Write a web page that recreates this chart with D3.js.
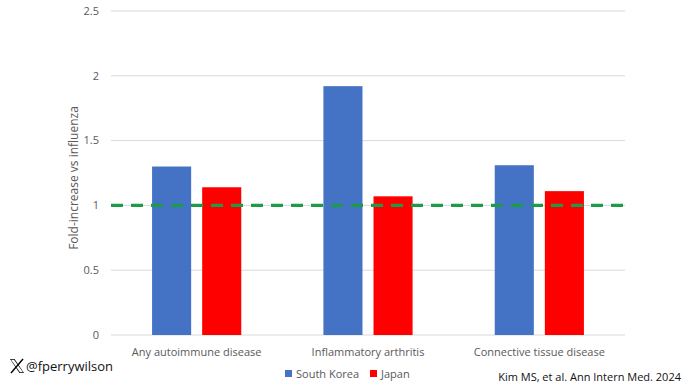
<!DOCTYPE html>
<html>
<head>
<meta charset="utf-8">
<script src="https://cdn.jsdelivr.net/npm/d3@7"></script>
<style>
  body { margin: 0; background: #fff; }
  text { font-family: "Open Sans", "Noto Sans", sans-serif; }
</style>
</head>
<body>
<div id="viz"></div>
<script>
const w = 690;
const h = 388;

const categories = ['Any autoimmune disease', 'Inflammatory arthritis', 'Connective tissue disease'];
const series = ['South Korea', 'Japan'];
const southKorea = [1.30, 1.92, 1.31];
const japan = [1.14, 1.07, 1.11];
const yTicks = [0, 0.5, 1, 1.5, 2, 2.5];
const reference = 1;
const colors = ['#4472c4', '#ff0000'];

const plot = { left: 111, right: 625, top: 11, bottom: 335 };

const svg = d3.select('#viz').append('svg')
    .attr('width', w)
    .attr('height', h)

const x = d3.scaleBand()
    .domain(categories)
    .range([plot.left, plot.right])
    .paddingInner(0)
    .paddingOuter(0)

const xSeries = d3.scaleBand()
    .domain(series)
    .range([0, x.bandwidth()])
    .paddingInner(0.22)
    .paddingOuter(0.82)

const y = d3.scaleLinear()
    .domain([0, 2.5])
    .range([plot.bottom, plot.top])

// gridlines
svg.append('g')
    .selectAll('line')
    .data(yTicks)
    .join('line')
    .attr('x1', plot.left)
    .attr('x2', plot.right)
    .attr('y1', d => y(d))
    .attr('y2', d => y(d))
    .attr('stroke', '#d9d9d9')
    .attr('stroke-width', 1)

// y tick labels
svg.append('g')
    .selectAll('text')
    .data(yTicks)
    .join('text')
    .attr('x', 99)
    .attr('y', d => y(d))
    .attr('dy', '0.35em')
    .attr('text-anchor', 'end')
    .attr('font-size', 11)
    .attr('fill', '#595959')
    .text(d => d)

// bars
const rows = categories.map((c, i) => ({ cat: c, values: [southKorea[i], japan[i]] }));

const groups = svg.append('g')
    .selectAll('g')
    .data(rows)
    .join('g')
    .attr('transform', d => `translate(${x(d.cat)},0)`)

groups.selectAll('rect')
    .data(d => d.values.map((v, j) => ({ s: series[j], v: v, j: j })))
    .join('rect')
    .attr('x', d => xSeries(d.s))
    .attr('width', xSeries.bandwidth())
    .attr('y', d => y(d.v))
    .attr('height', d => y(0) - y(d.v))
    .attr('fill', d => colors[d.j])

// reference line
svg.append('line')
    .attr('x1', plot.left)
    .attr('x2', plot.right)
    .attr('y1', y(reference))
    .attr('y2', y(reference))
    .attr('stroke', '#1c9b48')
    .attr('stroke-width', 3.2)
    .attr('stroke-dasharray', '12,8')

// category labels
svg.append('g')
    .selectAll('text')
    .data(categories)
    .join('text')
    .attr('x', d => x(d) + x.bandwidth() / 2)
    .attr('y', 356)
    .attr('text-anchor', 'middle')
    .attr('font-size', 11)
    .attr('fill', '#595959')
    .text(d => d)

// y axis title
svg.append('text')
    .attr('transform', `translate(78,${(plot.top + plot.bottom) / 2 + 5}) rotate(-90)`)
    .attr('text-anchor', 'middle')
    .attr('font-size', 12)
    .attr('fill', '#595959')
    .text('Fold-increase vs influenza')

// legend
const legend = svg.append('g')
    .attr('transform', 'translate(285,374)')

const legendItems = legend.selectAll('g')
    .data(series)
    .join('g')
    .attr('transform', (d, i) => `translate(${i * 85},0)`)

legendItems.append('rect')
    .attr('x', 0)
    .attr('y', -4)
    .attr('width', 7)
    .attr('height', 7)
    .attr('fill', (d, i) => colors[i])

legendItems.append('text')
    .attr('x', 11)
    .attr('y', 0)
    .attr('dy', '0.35em')
    .attr('font-size', 11)
    .attr('fill', '#595959')
    .text(d => d)

// handle
const handle = svg.append('g')
    .attr('transform', 'translate(10,359)')

handle.append('path')
    .attr('d', 'M0,0 L4.5,0 L14,14 L9.5,14 Z')
    .attr('fill', '#000')

handle.append('path')
    .attr('d', 'M1,0.8 L4,0.8 L13,13.2 L10,13.2 Z')
    .attr('fill', '#fff')

handle.append('line')
    .attr('x1', 13).attr('y1', 0)
    .attr('x2', 1).attr('y2', 14)
    .attr('stroke', '#000')
    .attr('stroke-width', 1.4)

handle.append('text')
    .attr('x', 16)
    .attr('y', 12)
    .attr('font-size', 13)
    .attr('fill', '#111')
    .text('@fperrywilson')

svg.append('text')
    .attr('x', 681)
    .attr('y', 381)
    .attr('text-anchor', 'end')
    .attr('font-size', 11)
    .attr('fill', '#111')
    .text('Kim MS, et al. Ann Intern Med. 2024')
</script>
</body>
</html>
